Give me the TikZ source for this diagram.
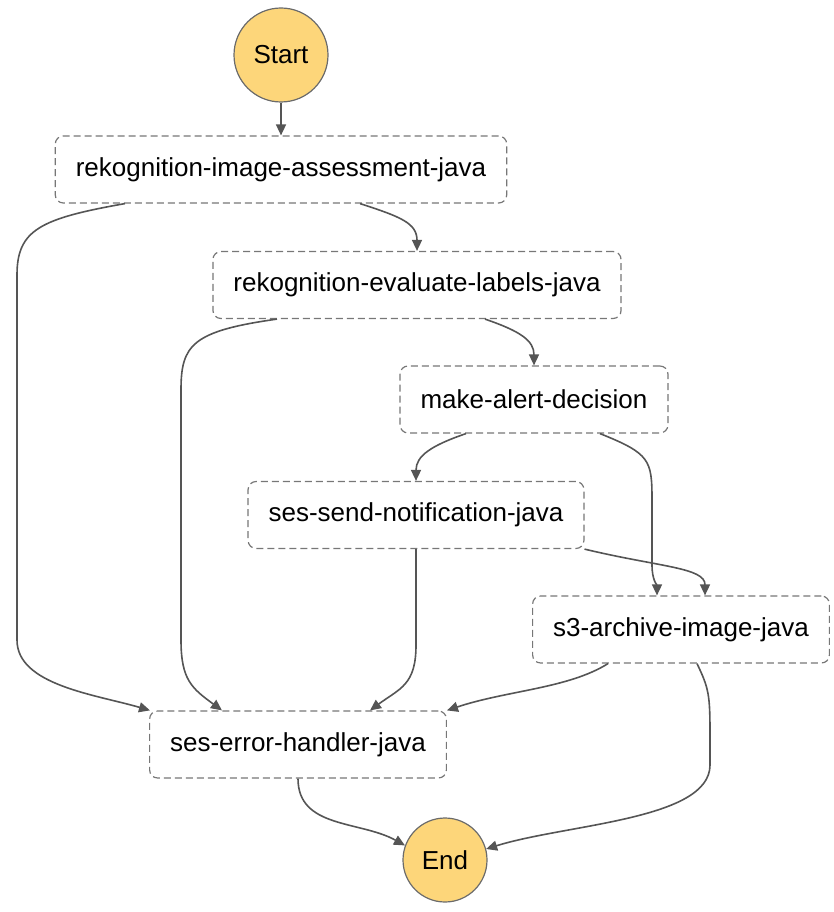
\documentclass[tikz,border=0pt]{standalone}
\usepackage{fontspec}
\setmainfont{Liberation Sans}
\usetikzlibrary{arrows.meta}
\definecolor{termfill}{HTML}{FDD67A}
\definecolor{edgegray}{HTML}{555555}
\definecolor{boxgray}{HTML}{777777}
\begin{document}
\begin{tikzpicture}
[x=1pt,y=-1pt,
 task/.style={draw=boxgray,line width=1.2pt,dash pattern=on 7pt off 4pt,rounded corners=8pt,minimum height=67pt,inner xsep=20.5pt,font=\fontsize{26}{31}\selectfont},
 terminal/.style={circle,draw=boxgray!90!black,line width=1.2pt,fill=termfill,inner sep=0pt,font=\fontsize{26}{31}\selectfont},
 flow/.style={draw=edgegray,line width=1.6pt,-{Triangle[length=11pt,width=10pt]}}]
\useasboundingbox (0,0) rectangle (834,912);
\node [terminal,minimum size=94pt] (start) at (281,55) {Start};
\node [task] (assess) at (281,169.5) {rekognition-image-assessment-java};
\node [task] (labels) at (417,285) {rekognition-evaluate-labels-java};
\node [task] (decision) at (534,399.5) {make-alert-decision};
\node [task] (notify) at (416,515) {ses-send-notification-java};
\node [task] (archive) at (681,629.5) {s3-archive-image-java};
\node [task] (error) at (298,744.5) {ses-error-handler-java};
\node [terminal,minimum size=84pt] (finish) at (445,860) {End};
\draw [flow] (start) -- (assess);
\draw [flow] ([xshift=79pt]assess.south) .. controls +(40,13) and +(0,-28) .. (labels.north);
\draw [flow] ([xshift=-156pt]assess.south) .. controls +(-85,15) and +(0,-45) .. (17,275) -- (17,640) .. controls +(0,45) and +(-55,-16) .. ([xshift=-148pt]error.north);
\draw [flow] ([xshift=68pt]labels.south) .. controls +(35,12) and +(0,-25) .. (decision.north);
\draw [flow] ([xshift=-140pt]labels.south) .. controls +(-85,12) and +(0,-45) .. (181,390) -- (181,640) .. controls +(0,40) and +(-30,-22) .. ([xshift=-76pt]error.north);
\draw [flow] ([xshift=-68pt]decision.south) .. controls +(-35,12) and +(0,-25) .. (notify.north);
\draw [flow] ([xshift=66pt]decision.south) .. controls +(50,20) and +(0,-40) .. (652,500) -- (652,565) .. controls +(0,15) and +(0,-10) .. ([xshift=-24pt]archive.north);
\draw [flow] (notify.south east) .. controls +(75,18) and +(0,-28) .. ([xshift=24pt]archive.north);
\draw [flow] (notify.south) -- (416,645) .. controls +(0,40) and +(30,-22) .. ([xshift=72pt]error.north);
\draw [flow] ([xshift=-73pt]archive.south) .. controls +(-40,25) and +(60,-20) .. (error.north east);
\draw [flow] ([xshift=16pt]archive.south) .. controls +(12,25) and +(0,-40) .. (710,735) -- (710,765) .. controls +(0,55) and +(80,-25) .. (finish.15);
\draw [flow] (error.south) .. controls +(0,50) and +(-45,-25) .. (finish.160);
\end{tikzpicture}
\end{document}
